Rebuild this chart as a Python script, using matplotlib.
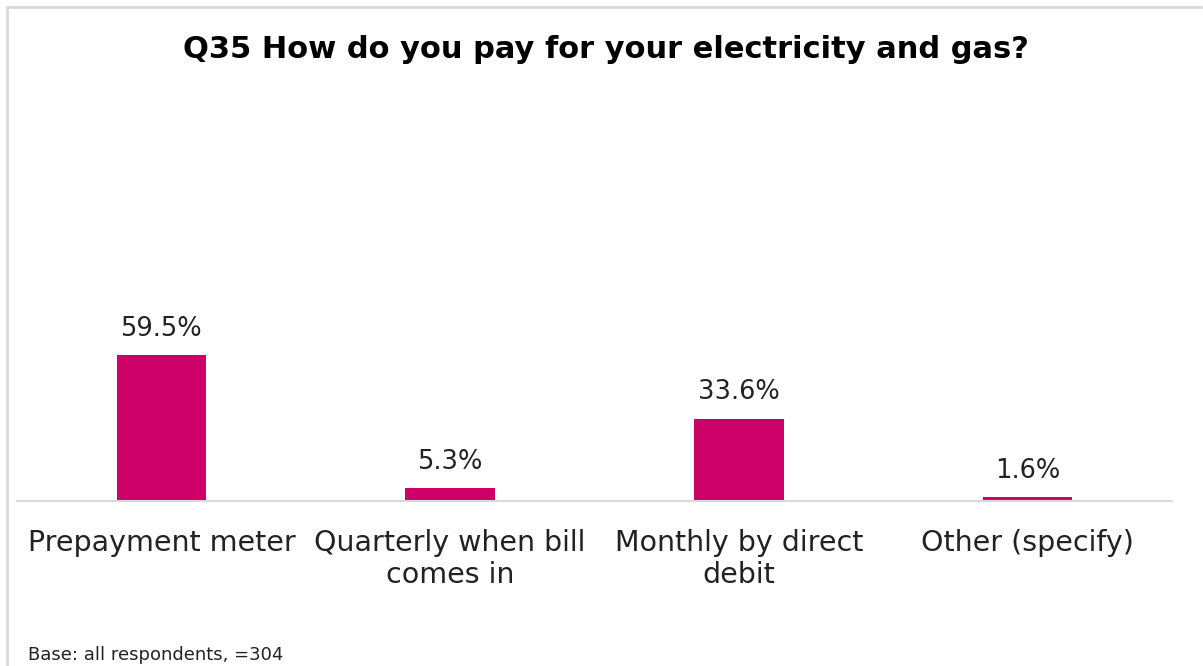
import matplotlib.pyplot as plt
from matplotlib.lines import Line2D

# data
categories = ['Prepayment meter', 'Quarterly when bill\ncomes in',
              'Monthly by direct\ndebit', 'Other (specify)']
values = [59.5, 5.3, 33.6, 1.6]
labels = ['59.5%', '5.3%', '33.6%', '1.6%']

bar_color = '#CC0066'
W, H = 1203, 666

plt.rcParams['font.family'] = ['DejaVu Sans']

fig = plt.figure(figsize=(W / 100, H / 100), dpi=100)

# plot area in pixel terms
left, right, top, base = 17, 1172, 256, 501
ax = fig.add_axes([left / W, 1 - base / H, (right - left) / W, (base - top) / H])

x = range(len(categories))
ax.bar(x, values, width=0.31, color=bar_color)
ax.set_xlim(-0.5, len(categories) - 0.5)
ax.set_ylim(0, 100)

for xi, v, lab in zip(x, values, labels):
    ax.annotate(lab, (xi, v), xytext=(0, 19), textcoords='offset points',
                ha='center', va='center', fontsize=18.5, color='#222222')

ax.set_xticks(list(x))
ax.set_xticklabels(categories, fontsize=20.5, color='#222222', linespacing=1.2)
ax.tick_params(axis='x', length=0, pad=20)
ax.set_yticks([])
for s in ['top', 'right', 'left']:
    ax.spines[s].set_visible(False)
ax.spines['bottom'].set_color('#d9d9d9')
ax.spines['bottom'].set_linewidth(1.5)

# title and base note
fig.text(606 / W, 1 - 50 / H, 'Q35 How do you pay for your electricity and gas?',
         ha='center', va='center', fontsize=22, fontweight='bold', color='black')
fig.text(28 / W, 1 - 655 / H, 'Base: all respondents, =304',
         ha='left', va='center', fontsize=13, color='#222222')

# outer frame (top and left only visible)
fig.add_artist(Line2D([7 / W, 1201 / W], [1 - 6.5 / H, 1 - 6.5 / H],
                      transform=fig.transFigure, color='#d9d9d9', lw=2))
fig.add_artist(Line2D([7 / W, 7 / W], [0, 1 - 6.5 / H],
                      transform=fig.transFigure, color='#d9d9d9', lw=2))

fig.savefig('out.png', dpi=100, facecolor='white')
